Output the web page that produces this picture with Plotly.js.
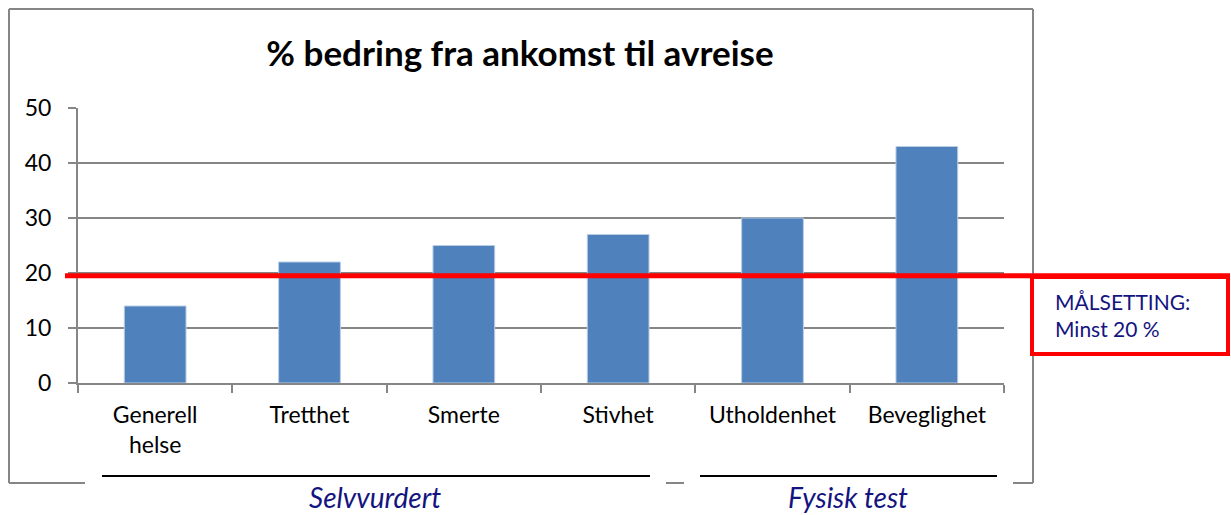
<!DOCTYPE html>
<html>
<head>
<meta charset="utf-8">
<script src="https://cdn.plot.ly/plotly-3.0.1.min.js"></script>
<style>html,body{margin:0;padding:0;background:#fff;}#chart{width:1231px;height:515px;}</style>
</head>
<body>
<div id="chart"></div>
<script>
const categories = ["Generell<br>helse", "Tretthet", "Smerte", "Stivhet", "Utholdenhet", "Beveglighet"];
const values = [14, 22, 25, 27, 30, 43];
const targetValue = 19.5;
const yTicks = [0, 10, 20, 30, 40, 50];
const groupLabels = ["Selvvurdert", "Fysisk test"];
const targetText = ["MÅLSETTING:", "Minst 20 %"];
const chartTitle = "% bedring fra ankomst til avreise";

const W = 1231, H = 515;
const L = 78, R = 1004, T = 108, B = 383;
const px = x => (x - L) / (R - L);
const py = y => (B - y) / (B - T);
const grey = "#868686";
const navy = "#14147f";
const fam = "Lato, 'Open Sans', sans-serif";

const trace = {
  type: "bar",
  x: categories,
  y: values,
  marker: {color: "#4f81bd", line: {color: "#b9cde5", width: 1}},
  hoverinfo: "skip"
};

const shapes = [
  {type: "line", xref: "paper", yref: "paper", x0: px(9), x1: px(1033), y0: py(9), y1: py(9), line: {color: grey, width: 2}},
  {type: "line", xref: "paper", yref: "paper", x0: px(9), x1: px(9), y0: py(9), y1: py(483), line: {color: grey, width: 2}},
  {type: "line", xref: "paper", yref: "paper", x0: px(1033), x1: px(1033), y0: py(9), y1: py(483), line: {color: grey, width: 2}},
  {type: "line", xref: "paper", yref: "paper", x0: px(9), x1: px(85), y0: py(483), y1: py(483), line: {color: grey, width: 2}},
  {type: "line", xref: "paper", yref: "paper", x0: px(666), x1: px(684), y0: py(483), y1: py(483), line: {color: grey, width: 2}},
  {type: "line", xref: "paper", yref: "paper", x0: px(1013), x1: px(1033), y0: py(483), y1: py(483), line: {color: grey, width: 2}},
  {type: "line", xref: "paper", yref: "paper", x0: px(102), x1: px(650), y0: py(476), y1: py(476), line: {color: "#000", width: 2}},
  {type: "line", xref: "paper", yref: "paper", x0: px(700), x1: px(997), y0: py(476), y1: py(476), line: {color: "#000", width: 2}},
  {type: "line", xref: "paper", yref: "y", x0: px(65), x1: px(1230), y0: targetValue, y1: targetValue, line: {color: "#ff0000", width: 5}, layer: "above"},
  {type: "rect", xref: "paper", yref: "paper", x0: px(1032), x1: px(1228), y0: py(277), y1: py(354), line: {color: "#ff0000", width: 4}, fillcolor: "#ffffff", layer: "above"}
];

const annotations = [
  {xref: "paper", yref: "paper", x: px(1053), y: py(315), xanchor: "left", yanchor: "middle", align: "left",
   text: targetText.join("<br>"), showarrow: false, font: {family: fam, size: 21, color: navy}},
  {xref: "paper", yref: "paper", x: px(375), y: py(497), xanchor: "center", yanchor: "middle", borderpad: 0,
   text: "<i>" + groupLabels[0] + "</i>", showarrow: false, font: {family: fam, size: 28, color: navy}},
  {xref: "paper", yref: "paper", x: px(848), y: py(497), xanchor: "center", yanchor: "middle", borderpad: 0,
   text: "<i>" + groupLabels[1] + "</i>", showarrow: false, font: {family: fam, size: 28, color: navy}}
];

const layout = {
  width: W, height: H,
  margin: {l: L, r: W - R, t: T, b: H - B, pad: 0},
  paper_bgcolor: "#ffffff",
  plot_bgcolor: "#ffffff",
  showlegend: false,
  bargap: 0.6,
  title: {text: "<b>" + chartTitle + "</b>", xref: "container", yref: "container", x: 520 / W, y: 1 - 54 / H,
          xanchor: "center", yanchor: "middle", font: {family: fam, size: 35, color: "#000"}},
  font: {family: fam, size: 23, color: "#000"},
  xaxis: {
    type: "category",
    showgrid: false,
    showline: true, linecolor: grey, linewidth: 2,
    ticks: "outside", tickson: "boundaries", ticklen: 8, tickcolor: grey, tickwidth: 2,
    tickfont: {family: fam, size: 23, color: "#000"},
    ticklabelstandoff: 10,
    fixedrange: true
  },
  yaxis: {
    range: [0, 50],
    tickvals: yTicks,
    showgrid: true, gridcolor: grey, gridwidth: 1.5,
    zeroline: false,
    showline: true, linecolor: grey, linewidth: 2,
    ticks: "outside", ticklen: 8, tickcolor: grey, tickwidth: 2,
    tickfont: {family: fam, size: 23, color: "#000"},
    ticklabelstandoff: 12,
    fixedrange: true
  },
  shapes: shapes,
  annotations: annotations
};

Plotly.newPlot("chart", [trace], layout, {displayModeBar: false, staticPlot: true});
</script>
</body>
</html>
